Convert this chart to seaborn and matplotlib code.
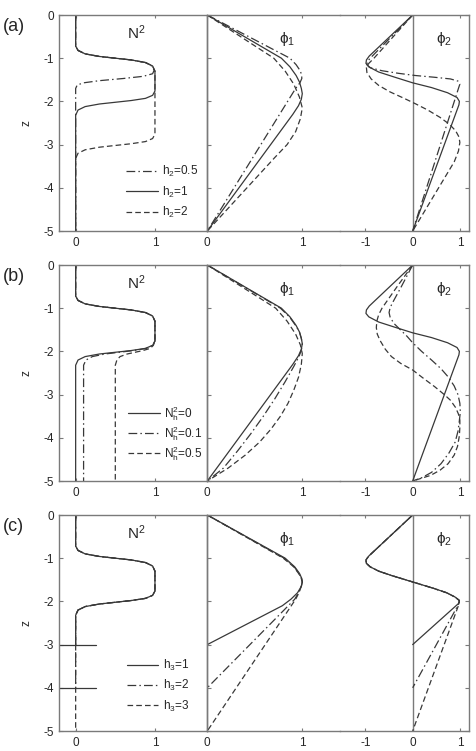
import matplotlib
matplotlib.use("Agg")
import matplotlib.pyplot as plt
import seaborn as sns

# ---- data ----
Z_TICKS = [0, -1, -2, -3, -4, -5]

# row (a): N^2 for h2 = 0.5, 1, 2
a_n2_h05_z = [0, -0.72, -0.82, -0.9, -0.96, -1.0, -1.04, -1.1, -1.18, -1.28, -1.36, -1.42, -1.47, -1.52, -1.57, -1.62, -1.7, -5]
a_n2_h05_v = [0, 0, 0.03, 0.12, 0.3, 0.5, 0.7, 0.88, 0.96, 0.99, 0.97, 0.85, 0.6, 0.3, 0.1, 0.02, 0, 0]
a_n2_h1_z = [0, -0.72, -0.82, -0.9, -0.96, -1.0, -1.04, -1.1, -1.18, -1.3, -1.76, -1.86, -1.93, -1.98, -2.02, -2.06, -2.12, -2.2, -2.32, -5]
a_n2_h1_v = [0, 0, 0.03, 0.12, 0.3, 0.5, 0.7, 0.88, 0.97, 1.0, 1.0, 0.97, 0.88, 0.7, 0.5, 0.3, 0.12, 0.03, 0, 0]
a_n2_h2_z = [0, -0.72, -0.82, -0.9, -0.96, -1.0, -1.04, -1.1, -1.18, -1.3, -2.76, -2.86, -2.93, -2.98, -3.02, -3.06, -3.12, -3.2, -3.32, -5]
a_n2_h2_v = [0, 0, 0.03, 0.12, 0.3, 0.5, 0.7, 0.88, 0.97, 1.0, 1.0, 0.97, 0.88, 0.7, 0.5, 0.3, 0.12, 0.03, 0, 0]

# row (a): phi1
a_p1_h05_z = [0, -1.0, -1.15, -1.28, -1.38, -1.47, -1.57, -1.7, -5]
a_p1_h05_v = [0, 0.87, 0.935, 0.975, 0.993, 0.995, 0.975, 0.93, 0]
a_p1_h1_z = [0, -1.0, -1.2, -1.4, -1.55, -1.7, -1.82, -1.95, -2.1, -2.3, -5]
a_p1_h1_v = [0, 0.78, 0.87, 0.935, 0.97, 0.99, 1.0, 0.99, 0.96, 0.9, 0]
a_p1_h2_z = [0, -1.0, -1.3, -1.6, -1.9, -2.15, -2.4, -2.7, -3.0, -3.3, -5]
a_p1_h2_v = [0, 0.7, 0.82, 0.91, 0.97, 1.0, 0.98, 0.93, 0.84, 0.71, 0]

# row (a): phi2
a_p2_h05_z = [0, -1.0, -1.08, -1.15, -1.22, -1.29, -1.35, -1.4, -1.44, -1.48, -1.53, -1.6, -1.7, -5]
a_p2_h05_v = [0, -0.9, -0.96, -0.97, -0.9, -0.65, -0.3, 0.05, 0.45, 0.8, 0.96, 1.0, 0.97, 0]
a_p2_h1_z = [0, -0.95, -1.04, -1.12, -1.2, -1.32, -1.45, -1.57, -1.68, -1.8, -1.91, -2.0, -2.08, -5]
a_p2_h1_v = [0, -0.92, -0.98, -0.99, -0.93, -0.72, -0.35, 0.0, 0.4, 0.74, 0.94, 0.99, 0.98, 0]
a_p2_h2_z = [0, -1.0, -1.12, -1.22, -1.33, -1.48, -1.63, -1.78, -1.93, -2.05, -2.2, -2.37, -2.53, -2.68, -2.82, -2.95, -3.15, -3.4, -5]
a_p2_h2_v = [0, -0.82, -0.93, -0.98, -0.97, -0.88, -0.72, -0.48, -0.18, 0.05, 0.32, 0.58, 0.78, 0.91, 0.98, 1.0, 0.97, 0.88, 0]

# row (b): N^2 for Nh^2 = 0, 0.1, 0.5
b_n2_nh0_z = [0, -0.72, -0.82, -0.9, -0.96, -1.0, -1.04, -1.1, -1.18, -1.3, -1.76, -1.86, -1.93, -1.98, -2.02, -2.06, -2.12, -2.2, -2.32, -5]
b_n2_nh0_v = [0, 0, 0.03, 0.12, 0.3, 0.5, 0.7, 0.88, 0.97, 1.0, 1.0, 0.97, 0.88, 0.7, 0.5, 0.3, 0.12, 0.03, 0, 0]
b_n2_nh01_z = [0, -0.72, -0.82, -0.9, -0.96, -1.0, -1.04, -1.1, -1.18, -1.3, -1.76, -1.86, -1.93, -1.98, -2.02, -2.06, -2.12, -2.2, -2.32, -5]
b_n2_nh01_v = [0, 0, 0.03, 0.12, 0.3, 0.5, 0.7, 0.88, 0.97, 1.0, 1.0, 0.97, 0.89, 0.73, 0.55, 0.37, 0.21, 0.13, 0.1, 0.1]
b_n2_nh05_z = [0, -0.72, -0.82, -0.9, -0.96, -1.0, -1.04, -1.1, -1.18, -1.3, -1.76, -1.86, -1.93, -1.98, -2.02, -2.06, -2.12, -2.2, -2.32, -5]
b_n2_nh05_v = [0, 0, 0.03, 0.12, 0.3, 0.5, 0.7, 0.88, 0.97, 1.0, 1.0, 0.98, 0.94, 0.85, 0.75, 0.65, 0.56, 0.52, 0.5, 0.5]

# row (b): phi1
b_p1_nh0_z = [0, -1.0, -1.2, -1.4, -1.55, -1.7, -1.82, -1.95, -2.1, -2.3, -5]
b_p1_nh0_v = [0, 0.78, 0.87, 0.935, 0.97, 0.99, 1.0, 0.99, 0.96, 0.9, 0]
b_p1_nh01_z = [0, -1.0, -1.2, -1.4, -1.55, -1.7, -1.83, -1.97, -2.12, -2.35, -2.7, -3.1, -3.5, -3.9, -4.3, -4.7, -5]
b_p1_nh01_v = [0, 0.77, 0.865, 0.93, 0.97, 0.99, 1.0, 0.99, 0.965, 0.91, 0.82, 0.71, 0.59, 0.46, 0.32, 0.17, 0]
b_p1_nh05_z = [0, -1.0, -1.3, -1.6, -1.85, -2.05, -2.3, -2.6, -2.9, -3.2, -3.5, -3.8, -4.1, -4.4, -4.7, -5]
b_p1_nh05_v = [0, 0.72, 0.84, 0.93, 0.98, 1.0, 0.99, 0.96, 0.91, 0.85, 0.77, 0.67, 0.55, 0.4, 0.22, 0]

# row (b): phi2
b_p2_nh0_z = [0, -0.95, -1.04, -1.12, -1.2, -1.32, -1.45, -1.57, -1.68, -1.8, -1.91, -2.0, -2.08, -5]
b_p2_nh0_v = [0, -0.92, -0.98, -0.99, -0.93, -0.72, -0.35, 0.0, 0.4, 0.74, 0.94, 0.99, 0.98, 0]
b_p2_nh01_z = [0, -0.5, -0.9, -1.0, -1.1, -1.2, -1.35, -1.5, -1.65, -1.8, -2.0, -2.2, -2.4, -2.6, -2.8, -3.0, -3.2, -3.4, -3.6, -3.85, -4.1, -4.35, -4.6, -4.8, -4.92, -5]
b_p2_nh01_v = [0, -0.24, -0.44, -0.48, -0.5, -0.48, -0.4, -0.26, -0.12, 0.0, 0.19, 0.4, 0.6, 0.76, 0.88, 0.96, 1.0, 1.01, 0.99, 0.96, 0.9, 0.77, 0.6, 0.4, 0.2, 0]
b_p2_nh05_z = [0, -0.5, -1.0, -1.15, -1.3, -1.45, -1.6, -1.75, -1.95, -2.12, -2.28, -2.43, -2.6, -2.82, -3.0, -3.13, -3.3, -3.45, -3.6, -3.75, -3.95, -4.2, -4.4, -4.6, -4.75, -4.87, -5]
b_p2_nh05_v = [0, -0.33, -0.65, -0.72, -0.76, -0.77, -0.75, -0.69, -0.58, -0.45, -0.25, 0.0, 0.2, 0.47, 0.67, 0.8, 0.91, 0.97, 1.0, 1.0, 0.99, 0.95, 0.88, 0.75, 0.58, 0.38, 0]

# row (c): N^2 for h3 = 1, 2, 3 (bottom at -3, -4, -5)
c_bottoms = [-3, -4]
c_n2_h1_z = [0, -0.72, -0.82, -0.9, -0.96, -1.0, -1.04, -1.1, -1.18, -1.3, -1.76, -1.86, -1.93, -1.98, -2.02, -2.06, -2.12, -2.2, -2.32, -3]
c_n2_h1_v = [0, 0, 0.03, 0.12, 0.3, 0.5, 0.7, 0.88, 0.97, 1.0, 1.0, 0.97, 0.88, 0.7, 0.5, 0.3, 0.12, 0.03, 0, 0]
c_n2_h2_z = [0, -0.72, -0.82, -0.9, -0.96, -1.0, -1.04, -1.1, -1.18, -1.3, -1.76, -1.86, -1.93, -1.98, -2.02, -2.06, -2.12, -2.2, -2.32, -4]
c_n2_h2_v = [0, 0, 0.03, 0.12, 0.3, 0.5, 0.7, 0.88, 0.97, 1.0, 1.0, 0.97, 0.88, 0.7, 0.5, 0.3, 0.12, 0.03, 0, 0]
c_n2_h3_z = [0, -0.72, -0.82, -0.9, -0.96, -1.0, -1.04, -1.1, -1.18, -1.3, -1.76, -1.86, -1.93, -1.98, -2.02, -2.06, -2.12, -2.2, -2.32, -5]
c_n2_h3_v = [0, 0, 0.03, 0.12, 0.3, 0.5, 0.7, 0.88, 0.97, 1.0, 1.0, 0.97, 0.88, 0.7, 0.5, 0.3, 0.12, 0.03, 0, 0]

# row (c): phi1
c_p1_h1_z = [0, -1.0, -1.2, -1.35, -1.47, -1.55, -1.65, -1.8, -1.95, -2.1, -3.0]
c_p1_h1_v = [0, 0.82, 0.92, 0.97, 0.995, 1.0, 0.99, 0.95, 0.88, 0.79, 0]
c_p1_h2_z = [0, -1.0, -1.2, -1.35, -1.47, -1.55, -1.65, -1.8, -1.95, -4.0]
c_p1_h2_v = [0, 0.81, 0.915, 0.965, 0.99, 1.0, 0.99, 0.96, 0.92, 0]
c_p1_h3_z = [0, -1.0, -1.2, -1.35, -1.47, -1.55, -1.65, -1.8, -1.95, -5.0]
c_p1_h3_v = [0, 0.8, 0.91, 0.96, 0.99, 1.0, 0.99, 0.965, 0.93, 0]

# row (c): phi2
c_p2_h1_z = [0, -0.95, -1.04, -1.12, -1.2, -1.3, -1.4, -1.5, -1.6, -1.7, -1.8, -1.9, -1.98, -2.05, -3.0]
c_p2_h1_v = [0, -0.93, -0.99, -0.98, -0.9, -0.72, -0.45, -0.15, 0.15, 0.45, 0.72, 0.9, 0.99, 0.97, 0]
c_p2_h2_z = [0, -0.95, -1.04, -1.12, -1.2, -1.3, -1.4, -1.5, -1.6, -1.7, -1.8, -1.9, -1.98, -2.05, -4.0]
c_p2_h2_v = [0, -0.93, -0.99, -0.98, -0.9, -0.72, -0.45, -0.15, 0.15, 0.45, 0.72, 0.9, 0.99, 0.98, 0]
c_p2_h3_z = [0, -0.95, -1.04, -1.12, -1.2, -1.3, -1.4, -1.5, -1.6, -1.7, -1.8, -1.9, -1.98, -2.05, -5.0]
c_p2_h3_v = [0, -0.93, -0.99, -0.98, -0.9, -0.72, -0.45, -0.15, 0.15, 0.45, 0.72, 0.9, 0.99, 0.985, 0]

a_labels = ["h$_2$=0.5", "h$_2$=1", "h$_2$=2"]
b_labels = ["N$_h^2$=0", "N$_h^2$=0.1", "N$_h^2$=0.5"]
c_labels = ["h$_3$=1", "h$_3$=2", "h$_3$=3"]

# ---- style ----
LINE = "#383838"
FRAME = "#7a7a7a"
STYLES = {
    "solid": "-",
    "dashed": (0, (4.5, 2.5)),
    "dashdot": (0, (7, 2.5, 1.2, 2.5)),
}

W, H = 477, 751
X_LEFT, X_PHI1, X_SPLIT, X_RIGHT = 59, 207.3, 340, 469.3
ROW_TOPS = [15, 265, 515]
ROW_H = 216


def draw(ax, x, z, style, label=None):
    sns.lineplot(x=x, y=z, sort=False, estimator=None, ax=ax, color=LINE,
                 linewidth=0.9, linestyle=STYLES[style], label=label, legend=False)


def style_axes(ax, xlim, xticks, left, right):
    ax.set_xlim(*xlim)
    ax.set_ylim(-5, 0)
    ax.set_xticks(xticks)
    ax.set_yticks(Z_TICKS)
    ax.set_xlabel("")
    ax.set_ylabel("")
    ax.patch.set_alpha(0)
    for s in ax.spines.values():
        s.set_color(FRAME)
        s.set_linewidth(1.0)
    ax.spines["left"].set_visible(left)
    ax.spines["right"].set_visible(right)
    ax.tick_params(axis="x", direction="in", length=2.5, width=0.8, color=FRAME,
                   top=True, bottom=True, labelsize=8.5, pad=4)
    ax.tick_params(axis="y", direction="in", length=3, width=0.8, color=FRAME,
                   left=left, right=right, labelleft=False, labelright=False,
                   labelsize=8.5)


def make_row(fig, top):
    b = 1 - (top + ROW_H) / H
    h = ROW_H / H
    ax_n = fig.add_axes([X_LEFT / W, b, (X_PHI1 - X_LEFT) / W, h])
    ax_1 = fig.add_axes([X_PHI1 / W, b, (X_SPLIT - X_PHI1) / W, h])
    ax_2 = fig.add_axes([X_SPLIT / W, b, (X_RIGHT - X_SPLIT) / W, h])
    return ax_n, ax_1, ax_2


def finish_row(ax_n, ax_1, ax_2, tag, handles, labels, leg_anchor, spacing=0.45):
    style_axes(ax_n, (-0.21, 1.66), [0, 1], left=True, right=True)
    ax_n.tick_params(axis="y", labelleft=True, right=False)
    style_axes(ax_1, (0, 1.397), [0, 1], left=True, right=False)
    style_axes(ax_2, (-1.54, 1.2), [-1, 0, 1], left=False, right=True)
    ax_2.axvline(0, color=FRAME, linewidth=1.0, zorder=0)

    ax_n.set_ylabel("z", fontsize=8.5, labelpad=8)
    ax_n.text(0.76, -0.42, "N$^2$", fontsize=11, ha="center", va="center")
    ax_1.text(0.84, -0.56, r"$\phi_1$", fontsize=11, ha="center", va="center")
    ax_2.text(0.67, -0.56, r"$\phi_2$", fontsize=11, ha="center", va="center")
    ax_n.text(-0.38, 0.945, tag, transform=ax_n.transAxes, fontsize=13,
              ha="left", va="center")

    ax_n.legend(handles, labels, loc="center left", bbox_to_anchor=leg_anchor,
                frameon=False, fontsize=8.5, handlelength=2.7, handletextpad=0.4,
                labelspacing=spacing, borderpad=0, borderaxespad=0)


sns.set_theme(style="white")
plt.rcParams["font.family"] = ["Liberation Sans", "DejaVu Sans"]
plt.rcParams["mathtext.fontset"] = "custom"
plt.rcParams["mathtext.rm"] = "Liberation Sans"
plt.rcParams["mathtext.it"] = "Liberation Sans"
plt.rcParams["axes.unicode_minus"] = False

fig = plt.figure(figsize=(W / 100, H / 100), dpi=100)

# (a)
ax_n, ax_1, ax_2 = make_row(fig, ROW_TOPS[0])
draw(ax_n, a_n2_h05_v, a_n2_h05_z, "dashdot")
draw(ax_n, a_n2_h2_v, a_n2_h2_z, "dashed")
draw(ax_n, a_n2_h1_v, a_n2_h1_z, "solid")
draw(ax_1, a_p1_h05_v, a_p1_h05_z, "dashdot")
draw(ax_1, a_p1_h2_v, a_p1_h2_z, "dashed")
draw(ax_1, a_p1_h1_v, a_p1_h1_z, "solid")
draw(ax_2, a_p2_h05_v, a_p2_h05_z, "dashdot")
draw(ax_2, a_p2_h2_v, a_p2_h2_z, "dashed")
draw(ax_2, a_p2_h1_v, a_p2_h1_z, "solid")
lines = ax_n.get_lines()
finish_row(ax_n, ax_1, ax_2, "(a)", [lines[0], lines[2], lines[1]], a_labels, (0.45, 0.18))

# (b)
ax_n, ax_1, ax_2 = make_row(fig, ROW_TOPS[1])
draw(ax_n, b_n2_nh01_v, b_n2_nh01_z, "dashdot")
draw(ax_n, b_n2_nh05_v, b_n2_nh05_z, "dashed")
draw(ax_n, b_n2_nh0_v, b_n2_nh0_z, "solid")
draw(ax_1, b_p1_nh01_v, b_p1_nh01_z, "dashdot")
draw(ax_1, b_p1_nh05_v, b_p1_nh05_z, "dashed")
draw(ax_1, b_p1_nh0_v, b_p1_nh0_z, "solid")
draw(ax_2, b_p2_nh01_v, b_p2_nh01_z, "dashdot")
draw(ax_2, b_p2_nh05_v, b_p2_nh05_z, "dashed")
draw(ax_2, b_p2_nh0_v, b_p2_nh0_z, "solid")
lines = ax_n.get_lines()
finish_row(ax_n, ax_1, ax_2, "(b)", [lines[2], lines[0], lines[1]], b_labels, (0.463, 0.22),
           spacing=0.1)

# (c)
ax_n, ax_1, ax_2 = make_row(fig, ROW_TOPS[2])
draw(ax_n, c_n2_h3_v, c_n2_h3_z, "dashed")
draw(ax_n, c_n2_h2_v, c_n2_h2_z, "dashdot")
draw(ax_n, c_n2_h1_v, c_n2_h1_z, "solid")
for zb in c_bottoms:
    ax_n.axhline(zb, xmin=0, xmax=0.25, color=LINE, linewidth=0.9)
draw(ax_1, c_p1_h3_v, c_p1_h3_z, "dashed")
draw(ax_1, c_p1_h2_v, c_p1_h2_z, "dashdot")
draw(ax_1, c_p1_h1_v, c_p1_h1_z, "solid")
draw(ax_2, c_p2_h3_v, c_p2_h3_z, "dashed")
draw(ax_2, c_p2_h2_v, c_p2_h2_z, "dashdot")
draw(ax_2, c_p2_h1_v, c_p2_h1_z, "solid")
lines = ax_n.get_lines()
finish_row(ax_n, ax_1, ax_2, "(c)", [lines[2], lines[1], lines[0]], c_labels, (0.456, 0.21))

fig.savefig("out.png", dpi=100)
